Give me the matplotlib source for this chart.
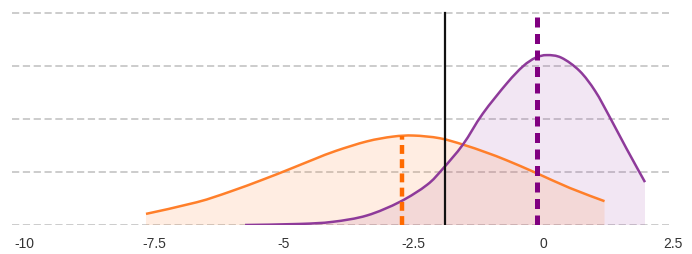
import matplotlib
matplotlib.use('Agg')
import matplotlib.pyplot as plt
from matplotlib.path import Path
from matplotlib.patches import PathPatch

# orange curve
orange_x = [-7.66, -6.68, -6.04, -5.40, -4.88, -4.40, -4.00, -3.40, -2.90, -2.50,
            -2.00, -1.55, -1.10, -0.70, -0.13, 0.51, 1.18]
orange_y = [0.021, 0.043, 0.063, 0.086, 0.106, 0.125, 0.140, 0.158, 0.167, 0.169,
            0.164, 0.152, 0.137, 0.122, 0.098, 0.070, 0.045]

# purple curve
purple_x = [-5.75, -4.70, -4.06, -3.40, -2.76, -2.24, -1.94, -1.55, -1.17, -0.70,
            -0.39, -0.15, 0.07, 0.35, 0.70, 1.00, 1.28, 1.60, 1.96]
purple_y = [0.000, 0.002, 0.006, 0.018, 0.044, 0.076, 0.106, 0.152, 0.210, 0.268,
            0.300, 0.316, 0.321, 0.316, 0.291, 0.253, 0.204, 0.145, 0.081]

orange_mean = -2.72
purple_mean = -0.13
threshold = -1.90
orange_at_mean = 0.168

grid_levels = [0.0, 0.1, 0.2, 0.3, 0.4]
xticks = [-10, -7.5, -5, -2.5, 0, 2.5]
xtick_labels = ['-10', '-7.5', '-5', '-2.5', '0', '2.5']


def smooth_path(xs, ys, close=False):
    # catmull-rom through the points, drawn as cubic bezier segments
    pts = list(zip(xs, ys))
    verts = [pts[0]]
    codes = [Path.MOVETO]
    n = len(pts)
    for i in range(n - 1):
        p0 = pts[max(i - 1, 0)]
        p1 = pts[i]
        p2 = pts[i + 1]
        p3 = pts[min(i + 2, n - 1)]
        c1 = (p1[0] + (p2[0] - p0[0]) / 6, p1[1] + (p2[1] - p0[1]) / 6)
        c2 = (p2[0] - (p3[0] - p1[0]) / 6, p2[1] - (p3[1] - p1[1]) / 6)
        verts += [c1, c2, p2]
        codes += [Path.CURVE4] * 3
    if close:
        verts += [(xs[-1], 0), (xs[0], 0), pts[0]]
        codes += [Path.LINETO, Path.LINETO, Path.CLOSEPOLY]
    return Path(verts, codes)


plt.rcParams['font.family'] = ['Liberation Sans', 'DejaVu Sans']

fig = plt.figure(figsize=(6.92, 2.54), dpi=100)
ax = fig.add_axes([12 / 692, 29 / 254, 668 / 692, 217 / 254])

ax.hlines(grid_levels, -10.243, 2.42, colors='#c8c8c8', linestyles=(0, (4, 2)),
          linewidth=1.3, zorder=0)

ax.add_patch(PathPatch(smooth_path(purple_x, purple_y, close=True), facecolor='#9b3fa8',
                       alpha=0.13, edgecolor='none', zorder=1))
ax.add_patch(PathPatch(smooth_path(orange_x, orange_y, close=True), facecolor='#ff8a3d',
                       alpha=0.15, edgecolor='none', zorder=1))

ax.add_patch(PathPatch(smooth_path(orange_x, orange_y), facecolor='none',
                       edgecolor='#ff7f2a', linewidth=1.8, zorder=3))
ax.add_patch(PathPatch(smooth_path(purple_x, purple_y), facecolor='none',
                       edgecolor='#8e3a9a', linewidth=1.8, zorder=3))

ax.plot([orange_mean, orange_mean], [0, orange_at_mean], color='#ff6a00',
        linewidth=3.2, linestyle=(0, (2.0, 1.2)), zorder=4)
ax.plot([purple_mean, purple_mean], [0, 0.402], color='#800080',
        linewidth=3.6, linestyle=(0, (2.0, 1.3)), zorder=4)
ax.plot([threshold, threshold], [0, 0.4], color='#111111', linewidth=1.6, zorder=4)

ax.set_xlim(-10.243, 2.635)
ax.set_ylim(0, 0.41)
ax.set_xticks(xticks)
ax.set_xticklabels(xtick_labels, fontsize=10, color='#333333')
ax.tick_params(axis='x', length=0, pad=9)
ax.set_yticks([])
for s in ax.spines.values():
    s.set_visible(False)

fig.savefig('out.png', dpi=100)
